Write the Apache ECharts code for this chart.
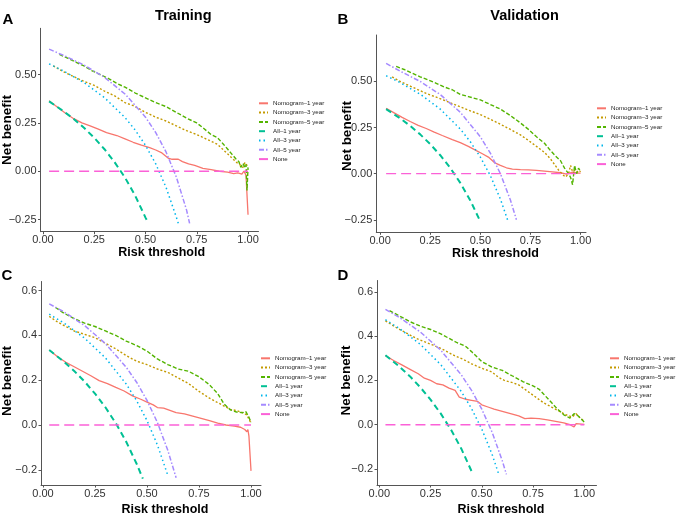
<!DOCTYPE html>
<html>
<head>
<meta charset="UTF-8">
<title>Decision curves</title>
<script src="https://cdn.jsdelivr.net/npm/echarts@6/dist/echarts.min.js"></script>
<style>
  html, body { margin: 0; padding: 0; background: #fff; }
  #chart { width: 676px; height: 515px; }
</style>
</head>
<body>
<div id="chart"></div>
<script>
// legend / series names
var seriesNames = ['Nomogram\u20131 year', 'Nomogram\u20133 year', 'Nomogram\u20135 year',
                   'All\u20131 year', 'All\u20133 year', 'All\u20135 year', 'None'];
var xTicks = [0, 0.25, 0.5, 0.75, 1];
var yTicksTop = [-0.25, 0, 0.25, 0.5];
var yTicksBottom = [-0.2, 0, 0.2, 0.4, 0.6];

// A - Training (1/3/5 year)
var aNom1 = [[0.03,0.365],[0.06,0.34],[0.11,0.30],[0.15,0.272],[0.19,0.25],[0.23,0.235],[0.27,0.218],[0.31,0.2],[0.36,0.185],[0.4,0.168],[0.44,0.15],[0.48,0.135],[0.52,0.122],[0.55,0.11],[0.58,0.095],[0.61,0.068],[0.63,0.062],[0.66,0.062],[0.68,0.05],[0.71,0.038],[0.74,0.03],[0.78,0.015],[0.82,0.008],[0.86,0.0],[0.9,-0.005],[0.93,-0.012],[0.95,-0.008],[0.97,-0.015],[0.98,0.0],[0.99,-0.02],[1.0,-0.225]];
var aNom3 = [[0.05,0.545],[0.1,0.515],[0.15,0.49],[0.2,0.465],[0.25,0.445],[0.3,0.415],[0.35,0.39],[0.4,0.355],[0.44,0.34],[0.5,0.305],[0.55,0.28],[0.6,0.26],[0.65,0.235],[0.7,0.21],[0.75,0.19],[0.8,0.165],[0.85,0.14],[0.88,0.11],[0.9,0.09],[0.93,0.06],[0.95,0.04],[0.965,0.03],[0.975,0.02],[0.985,0.045],[0.995,0.03],[1.0,0.025]];
var aNom5 = [[0.08,0.605],[0.12,0.585],[0.16,0.565],[0.2,0.545],[0.24,0.52],[0.28,0.50],[0.32,0.48],[0.36,0.455],[0.4,0.435],[0.45,0.405],[0.5,0.38],[0.55,0.355],[0.6,0.335],[0.65,0.305],[0.7,0.275],[0.75,0.25],[0.78,0.225],[0.82,0.19],[0.85,0.175],[0.88,0.14],[0.9,0.115],[0.92,0.09],[0.94,0.065],[0.955,0.05],[0.965,0.02],[0.975,0.04],[0.985,0.02],[0.99,0.035],[0.995,-0.1],[1.0,0.02]];
var aAll1 = [[0.03,0.362],[0.1,0.311],[0.15,0.271],[0.2,0.225],[0.25,0.173],[0.3,0.114],[0.35,0.046],[0.4,-0.033],[0.45,-0.127],[0.5,-0.24],[0.512,-0.265]];
var aAll3 = [[0.03,0.556],[0.1,0.519],[0.2,0.459],[0.3,0.381],[0.4,0.278],[0.45,0.213],[0.5,0.134],[0.55,0.038],[0.6,-0.083],[0.65,-0.237],[0.66,-0.27]];
var aAll5 = [[0.03,0.632],[0.1,0.60],[0.2,0.55],[0.3,0.486],[0.4,0.40],[0.5,0.28],[0.55,0.20],[0.6,0.10],[0.65,-0.029],[0.7,-0.20],[0.715,-0.27]];
var aNone = [[0.03,0],[1.0,0]];

// B - Validation (1/3/5 year)
var bNom1 = [[0.03,0.355],[0.07,0.33],[0.11,0.305],[0.15,0.283],[0.19,0.262],[0.23,0.245],[0.27,0.225],[0.31,0.207],[0.36,0.185],[0.4,0.168],[0.44,0.148],[0.48,0.125],[0.51,0.108],[0.54,0.09],[0.57,0.06],[0.6,0.045],[0.63,0.032],[0.66,0.025],[0.7,0.022],[0.74,0.02],[0.78,0.018],[0.82,0.014],[0.86,0.01],[0.9,0.005],[0.93,-0.002],[0.96,0.008],[0.98,0.003],[1.0,0.003]];
var bNom3 = [[0.06,0.525],[0.1,0.50],[0.15,0.475],[0.19,0.455],[0.23,0.435],[0.28,0.415],[0.32,0.398],[0.36,0.38],[0.4,0.362],[0.44,0.345],[0.5,0.32],[0.55,0.295],[0.6,0.268],[0.65,0.24],[0.7,0.21],[0.74,0.18],[0.78,0.148],[0.82,0.115],[0.85,0.08],[0.87,0.05],[0.89,0.02],[0.91,-0.005],[0.925,-0.018],[0.94,0.0],[0.95,0.045],[0.96,0.01],[0.975,0.02],[0.99,0.005],[1.0,0.015]];
var bNom5 = [[0.08,0.582],[0.12,0.565],[0.16,0.545],[0.2,0.525],[0.24,0.508],[0.28,0.49],[0.32,0.47],[0.36,0.455],[0.4,0.43],[0.44,0.418],[0.5,0.40],[0.55,0.375],[0.6,0.35],[0.65,0.315],[0.7,0.275],[0.74,0.24],[0.78,0.20],[0.82,0.165],[0.85,0.125],[0.88,0.09],[0.9,0.07],[0.92,0.03],[0.94,0.0],[0.95,-0.02],[0.96,-0.06],[0.97,0.045],[0.98,0.0],[0.99,0.03],[1.0,0.01]];
var bAll1 = [[0.03,0.35],[0.1,0.30],[0.15,0.259],[0.2,0.213],[0.25,0.16],[0.3,0.10],[0.35,0.031],[0.4,-0.05],[0.45,-0.145],[0.5,-0.26]];
var bAll3 = [[0.03,0.531],[0.1,0.494],[0.2,0.431],[0.3,0.35],[0.4,0.242],[0.45,0.173],[0.5,0.09],[0.55,-0.011],[0.6,-0.138],[0.64,-0.264]];
var bAll5 = [[0.03,0.598],[0.1,0.556],[0.2,0.50],[0.3,0.429],[0.4,0.333],[0.5,0.2],[0.55,0.111],[0.6,0.0],[0.65,-0.143],[0.68,-0.25]];
var bNone = [[0.03,0],[1.0,0]];

// C - Training (second set)
var cNom1 = [[0.03,0.335],[0.07,0.305],[0.11,0.28],[0.15,0.26],[0.19,0.24],[0.23,0.22],[0.27,0.198],[0.31,0.185],[0.35,0.168],[0.39,0.152],[0.43,0.13],[0.47,0.115],[0.5,0.102],[0.53,0.09],[0.55,0.078],[0.58,0.075],[0.61,0.065],[0.64,0.055],[0.68,0.05],[0.72,0.04],[0.76,0.03],[0.8,0.02],[0.84,0.008],[0.88,0.0],[0.92,-0.005],[0.95,-0.01],[0.97,-0.02],[0.98,-0.03],[0.985,-0.02],[0.99,-0.05],[1.0,-0.205]];
var cNom3 = [[0.03,0.485],[0.07,0.46],[0.11,0.44],[0.15,0.42],[0.2,0.405],[0.25,0.39],[0.3,0.365],[0.35,0.34],[0.4,0.31],[0.45,0.285],[0.5,0.27],[0.55,0.25],[0.6,0.235],[0.65,0.21],[0.7,0.185],[0.75,0.15],[0.8,0.12],[0.85,0.095],[0.9,0.07],[0.93,0.065],[0.96,0.055],[0.98,0.045],[1.0,0.008]];
var cNom5 = [[0.06,0.525],[0.1,0.5],[0.15,0.475],[0.2,0.455],[0.25,0.44],[0.3,0.42],[0.35,0.40],[0.4,0.375],[0.45,0.355],[0.5,0.33],[0.55,0.295],[0.6,0.27],[0.65,0.25],[0.7,0.24],[0.75,0.215],[0.8,0.18],[0.84,0.14],[0.87,0.095],[0.9,0.068],[0.93,0.058],[0.96,0.055],[0.975,0.06],[0.99,0.035],[1.0,0.012]];
var cAll1 = [[0.03,0.335],[0.1,0.283],[0.15,0.241],[0.2,0.194],[0.25,0.14],[0.3,0.079],[0.35,0.008],[0.4,-0.075],[0.45,-0.173],[0.48,-0.24]];
var cAll3 = [[0.03,0.495],[0.1,0.456],[0.2,0.388],[0.3,0.30],[0.4,0.183],[0.45,0.109],[0.5,0.02],[0.55,-0.089],[0.6,-0.225]];
var cAll5 = [[0.03,0.541],[0.1,0.506],[0.2,0.444],[0.3,0.364],[0.4,0.258],[0.45,0.191],[0.5,0.11],[0.55,0.011],[0.6,-0.113],[0.64,-0.236]];
var cNone = [[0.03,0],[1.0,0]];

// D - Validation (second set)
var dNom1 = [[0.03,0.312],[0.07,0.29],[0.11,0.27],[0.15,0.25],[0.19,0.23],[0.22,0.21],[0.25,0.2],[0.28,0.185],[0.31,0.18],[0.34,0.165],[0.37,0.155],[0.39,0.125],[0.42,0.115],[0.45,0.11],[0.48,0.105],[0.5,0.09],[0.53,0.08],[0.56,0.07],[0.6,0.06],[0.64,0.05],[0.68,0.04],[0.71,0.028],[0.74,0.03],[0.78,0.028],[0.82,0.022],[0.86,0.015],[0.9,0.008],[0.93,0.0],[0.95,-0.01],[0.96,0.005],[1.0,0.002]];
var dNom3 = [[0.03,0.469],[0.08,0.44],[0.13,0.415],[0.18,0.39],[0.22,0.375],[0.26,0.36],[0.3,0.345],[0.33,0.33],[0.37,0.31],[0.41,0.295],[0.45,0.275],[0.5,0.255],[0.55,0.238],[0.58,0.215],[0.61,0.2],[0.65,0.19],[0.68,0.18],[0.71,0.16],[0.74,0.14],[0.77,0.12],[0.8,0.1],[0.84,0.08],[0.88,0.06],[0.91,0.045],[0.94,0.035],[0.96,0.05],[0.98,0.03],[1.0,0.015]];
var dNom5 = [[0.05,0.515],[0.1,0.49],[0.15,0.465],[0.2,0.445],[0.25,0.43],[0.3,0.41],[0.34,0.39],[0.38,0.37],[0.42,0.355],[0.45,0.33],[0.5,0.285],[0.55,0.26],[0.6,0.245],[0.65,0.22],[0.7,0.195],[0.75,0.175],[0.78,0.16],[0.8,0.14],[0.84,0.1],[0.87,0.07],[0.9,0.045],[0.93,0.03],[0.95,0.05],[0.97,0.04],[1.0,0.012]];
var dAll1 = [[0.03,0.314],[0.1,0.261],[0.15,0.218],[0.2,0.169],[0.25,0.113],[0.3,0.05],[0.35,-0.023],[0.4,-0.108],[0.455,-0.22]];
var dAll3 = [[0.03,0.474],[0.1,0.433],[0.2,0.363],[0.3,0.271],[0.4,0.15],[0.45,0.073],[0.5,-0.02],[0.55,-0.133],[0.585,-0.23]];
var dAll5 = [[0.03,0.521],[0.1,0.483],[0.2,0.419],[0.3,0.336],[0.4,0.225],[0.45,0.155],[0.5,0.07],[0.55,-0.033],[0.6,-0.163],[0.62,-0.224]];
var dNone = [[0.03,0],[1.0,0]];

var FONT = '"Liberation Sans", Arial, sans-serif';

// line look per series (ggplot hue palette)
var styles = [
    { color: '#F8766D', type: 'solid', width: 1.3 },
    { color: '#C49A00', type: [2, 2], width: 1.4 },
    { color: '#53B400', type: [4, 2], width: 1.4 },
    { color: '#00C094', type: [6, 4], width: 2 },
    { color: '#00B6EB', type: [1.5, 3], width: 1.5 },
    { color: '#A58AFF', type: [5, 2, 1.5, 2], width: 1.5 },
    { color: '#FB61D7', type: [10, 5], width: 1.3 }
];

var panels = [
    { box: [40.5, 28.3, 218, 203.4], x: [-0.012, 1.051], y: [-0.313, 0.740], yTicks: yTicksTop, digits: 2,
      legend: [258, 99.3], data: [aNom1, aNom3, aNom5, aAll1, aAll3, aAll5, aNone] },
    { box: [376.3, 35, 209.7, 197.3], x: [-0.019, 1.027], y: [-0.318, 0.752], yTicks: yTicksTop, digits: 2,
      legend: [596, 104.3], data: [bNom1, bNom3, bNom5, bAll1, bAll3, bAll5, bNone] },
    { box: [41, 281.5, 220, 203.5], x: [-0.0096, 1.048], y: [-0.268, 0.641], yTicks: yTicksBottom, digits: 1,
      legend: [260, 354.3], data: [cNom1, cNom3, cNom5, cAll1, cAll3, cAll5, cNone] },
    { box: [377, 280.5, 219.5, 204.5], x: [-0.0112, 1.0595], y: [-0.272, 0.651], yTicks: yTicksBottom, digits: 1,
      legend: [609, 354.3], data: [dNom1, dNom3, dNom5, dAll1, dAll3, dAll5, dNone] }
];

function fmt(d) {
    return function (v) { return v.toFixed(d).replace('-', '\u2212'); };
}

var grids = [], xAxes = [], yAxes = [], series = [], legends = [];
var axisLineStyle = { color: '#555', width: 1 };

panels.forEach(function (p, i) {
    grids.push({ left: p.box[0], top: p.box[1], width: p.box[2], height: p.box[3], outerBoundsMode: 'none' });
    xAxes.push({
        type: 'value', gridIndex: i, min: p.x[0], max: p.x[1],
        axisLine: { onZero: false, lineStyle: axisLineStyle },
        axisTick: { length: 2.5, lineStyle: axisLineStyle, customValues: xTicks },
        axisLabel: { customValues: xTicks, formatter: fmt(2), color: '#333', fontSize: 11, fontFamily: FONT, margin: 3 },
        splitLine: { show: false }
    });
    yAxes.push({
        type: 'value', gridIndex: i, min: p.y[0], max: p.y[1],
        axisLine: { show: true, onZero: false, lineStyle: axisLineStyle },
        axisTick: { show: true, length: 2.5, lineStyle: axisLineStyle, customValues: p.yTicks },
        axisLabel: { customValues: p.yTicks, formatter: fmt(p.digits), color: '#333', fontSize: 11, fontFamily: FONT, margin: 4 },
        splitLine: { show: false }
    });
    p.data.forEach(function (d, k) {
        var s = styles[k];
        series.push({
            type: 'line', name: seriesNames[k], data: d,
            xAxisIndex: i, yAxisIndex: i,
            symbol: 'none', showSymbol: false, silent: true,
            itemStyle: { color: s.color },
            lineStyle: { color: s.color, type: s.type, width: s.width }
        });
    });
    legends.push({
        data: seriesNames, orient: 'vertical', left: p.legend[0], top: p.legend[1],
        padding: 0, itemWidth: 9, itemHeight: 6, itemGap: 1.3, selectedMode: false,
        itemStyle: { opacity: 0, borderWidth: 0 },
        textStyle: { fontSize: 6.2, lineHeight: 8, color: '#222', fontFamily: FONT }
    });
});

function label(txt, x, y, size, opts) {
    return Object.assign({
        type: 'text', x: x, y: y, silent: true,
        style: { text: txt, font: 'bold ' + size + 'px ' + FONT, fill: '#000', align: 'center', verticalAlign: 'middle' }
    }, opts || {});
}

var texts = [
    label('A', 8, 20, 15), label('B', 343, 20, 15), label('C', 7, 276, 15), label('D', 343, 276, 15),
    label('Training', 183.3, 15.7, 14.5), label('Validation', 524.5, 16, 14.5),
    label('Net benefit', 7.5, 130, 13.5, { rotation: Math.PI / 2 }),
    label('Net benefit', 347, 136, 13.5, { rotation: Math.PI / 2 }),
    label('Net benefit', 7.5, 381, 13.5, { rotation: Math.PI / 2 }),
    label('Net benefit', 346, 380.5, 13.5, { rotation: Math.PI / 2 }),
    label('Risk threshold', 161.7, 252.7, 12.5),
    label('Risk threshold', 495.5, 254, 12.5),
    label('Risk threshold', 165, 510, 12.5),
    label('Risk threshold', 501, 510, 12.5)
];

var chart = echarts.init(document.getElementById('chart'));
chart.setOption({
    animation: false,
    backgroundColor: '#fff',
    grid: grids,
    xAxis: xAxes,
    yAxis: yAxes,
    legend: legends,
    series: series,
    graphic: texts
});
</script>
</body>
</html>
